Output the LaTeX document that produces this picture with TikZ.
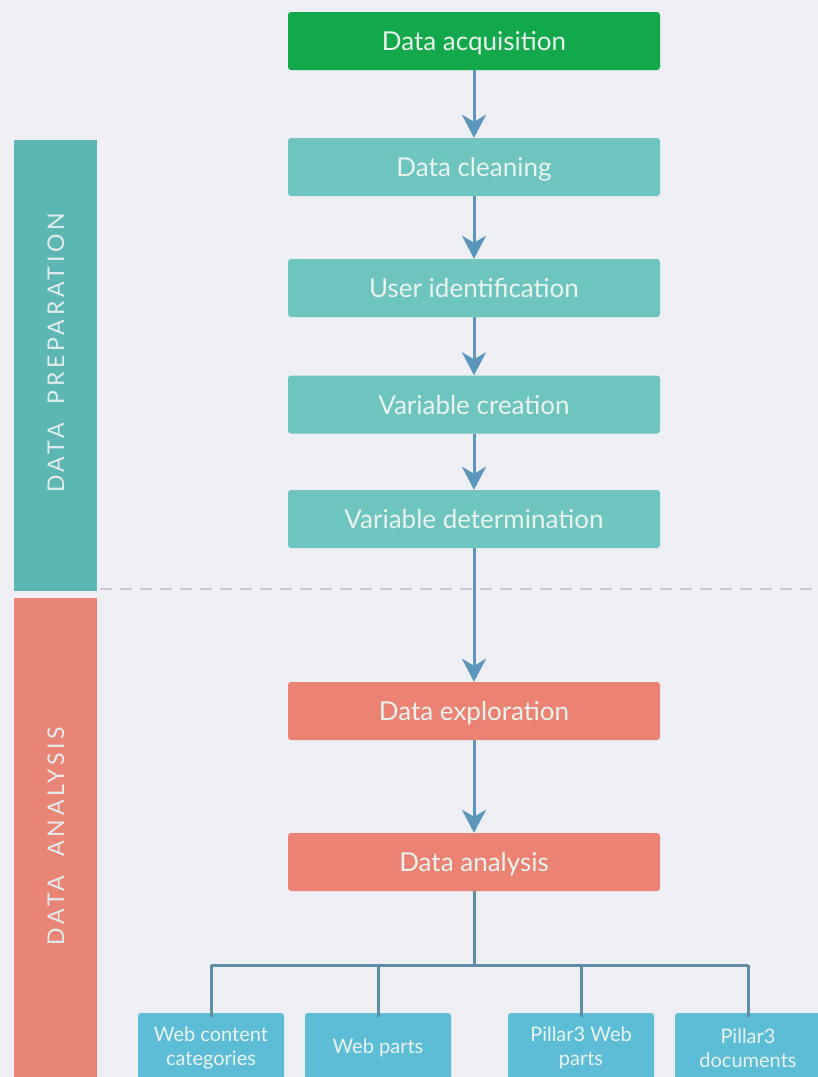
\documentclass[tikz,border=0pt]{standalone}
\usepackage{fontspec}
\setmainfont{Lato}
\newfontfamily\sidefont[LetterSpace=16]{Lato}
\usetikzlibrary{arrows.meta}
\definecolor{bg}{HTML}{EDEFF5}
\definecolor{acqgreen}{HTML}{13A84B}
\definecolor{prepteal}{HTML}{6EC4BF}
\definecolor{prepbar}{HTML}{5CB6B3}
\definecolor{anasalmon}{HTML}{EC8273}
\definecolor{anabar}{HTML}{E98577}
\definecolor{leafblue}{HTML}{5DBCD6}
\definecolor{flow}{HTML}{5B97BB}
\definecolor{branch}{HTML}{5E8EA6}
\definecolor{boxtext}{HTML}{E9F4EE}
\definecolor{sidetext}{HTML}{E2ECEE}
\definecolor{divider}{HTML}{C6C9D1}
\tikzset{
  stagebox/.style={rectangle, rounded corners=3pt, minimum width=372pt, minimum height=58pt,
    inner sep=0pt, text height=19pt, text depth=0pt, text=boxtext,
    font=\fontsize{26}{30}\selectfont},
  leafbox/.style={rectangle, rounded corners=3pt, fill=leafblue, minimum width=146pt,
    minimum height=70pt, inner sep=0pt, text=boxtext, align=center,
    font=\fontsize{20}{24}\selectfont},
  flowarrow/.style={draw=flow, line width=3pt, -{Stealth[length=23pt, width=24pt, inset=7pt]}},
  branchline/.style={draw=branch, line width=3pt},
}
\begin{document}
\begin{tikzpicture}[x=1pt, y=-1pt]
\useasboundingbox (0,0) rectangle (818,1077);
\clip (0,0) rectangle (818,1077);
\fill[bg] (0,0) rectangle (818,1077);

% phase bars
\fill[prepbar] (14,140) rectangle (97,591);
\fill[anabar] (14,598) rectangle (97,1090);
\node[rotate=90, text=sidetext, font=\sidefont\fontsize{23}{26}\selectfont] (prep) at (56,353) {DATA\ \ PREPARATION};
\node[rotate=90, text=sidetext, font=\sidefont\fontsize{23}{26}\selectfont] (ana) at (56,836) {DATA\ \ ANALYSIS};

% phase divider
\draw[divider, line width=1.5pt, dash pattern=on 12pt off 8pt] (100,589) -- (818,589);

% main stages
\node[stagebox, fill=acqgreen] (acq) at (474,41) {Data acquisition};
\node[stagebox, fill=prepteal] (clean) at (474,167) {Data cleaning};
\node[stagebox, fill=prepteal] (user) at (474,288) {User identification};
\node[stagebox, fill=prepteal] (vcre) at (474,404.5) {Variable creation};
\node[stagebox, fill=prepteal] (vdet) at (474,519) {Variable determination};
\node[stagebox, fill=anasalmon] (expl) at (474,711) {Data exploration};
\node[stagebox, fill=anasalmon] (anal) at (474,862) {Data analysis};

\draw[flowarrow] (acq) -- (clean);
\draw[flowarrow] (clean) -- (user);
\draw[flowarrow] (user) -- (vcre);
\draw[flowarrow] (vcre) -- (vdet);
\draw[flowarrow] (vdet) -- (expl);
\draw[flowarrow] (expl) -- (anal);

% result categories
\node[leafbox] (wcc) at (211,1048) {Web content\\categories};
\node[leafbox] (wp) at (378,1048) {Web parts};
\node[leafbox] (pwp) at (581,1048) {Pillar3 Web\\parts};
\node[leafbox] (pdoc) at (748,1048) {Pillar3\\documents};

\coordinate (fork) at (474,965);
\draw[branchline] (anal.south) -- (fork);
\draw[branchline] (wcc.north |- fork) -- (pdoc.north |- fork);
\draw[branchline] (wcc.north |- fork) -- ([yshift=-4pt]wcc.north);
\draw[branchline] (wp.north |- fork) -- ([yshift=-4pt]wp.north);
\draw[branchline] (pwp.north |- fork) -- ([yshift=-4pt]pwp.north);
\draw[branchline] (pdoc.north |- fork) -- ([yshift=-4pt]pdoc.north);
\end{tikzpicture}
\end{document}
